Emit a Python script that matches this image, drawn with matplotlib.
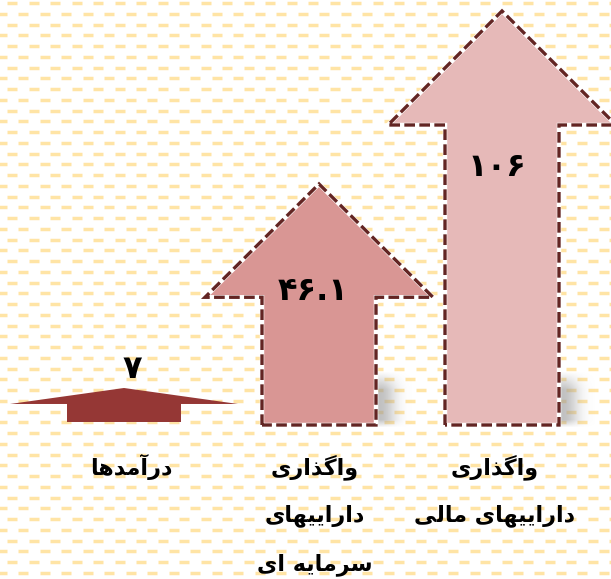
import numpy as np
import matplotlib
matplotlib.use("Agg")
from matplotlib import pyplot as plt
from matplotlib.patches import Polygon
from matplotlib.collections import LineCollection

# chart data
categories = ["درآمدها", "واگذاری\nداراییهای\nسرمایه ای", "واگذاری\nداراییهای مالی"]
values = [7, 46.1, 106]

# layout (pixel units, y grows downward)
centers = [124, 319, 502]
arrow_len = [34, 241, 414]
base_y = [422, 425, 425]
shaft_half = 57
head_half = 114
head_max = 114
fills = ["#953735", "#D99694", "#E6B9B8"]
outline = ["none", "#632523", "#632523"]

FORMS = {
    "ا": ("\ufe8d", "\ufe8e"),
    "آ": ("\ufe81", "\ufe82"),
    "د": ("\ufea9", "\ufeaa"),
    "ذ": ("\ufeab", "\ufeac"),
    "ر": ("\ufead", "\ufeae"),
    "و": ("\ufeed", "\ufeee"),
    "م": ("\ufee1", "\ufee2", "\ufee3", "\ufee4"),
    "ه": ("\ufee9", "\ufeea", "\ufeeb", "\ufeec"),
    "س": ("\ufeb1", "\ufeb2", "\ufeb3", "\ufeb4"),
    "ل": ("\ufedd", "\ufede", "\ufedf", "\ufee0"),
    "گ": ("\ufb92", "\ufb93", "\ufb94", "\ufb95"),
    "ی": ("\ufbfc", "\ufbfd", "\ufbfe", "\ufbff"),
}


def shape(line):
    # join letters into presentation forms and flip to visual order
    out = []
    for i, ch in enumerate(line):
        f = FORMS.get(ch)
        if f is None:
            out.append(ch)
            continue
        prev = line[i - 1] if i > 0 else ""
        nxt = line[i + 1] if i < len(line) - 1 else ""
        jp = prev in FORMS and len(FORMS[prev]) == 4
        jn = len(f) == 4 and nxt in FORMS
        if jp and jn:
            out.append(f[3])
        elif jp:
            out.append(f[1])
        elif jn:
            out.append(f[2])
        else:
            out.append(f[0])
    return "".join(reversed(out))


def to_fa(v):
    s = f"{v:g}"
    return s.translate(str.maketrans("0123456789", "۰۱۲۳۴۵۶۷۸۹"))


fig = plt.figure(figsize=(6.11, 5.79), dpi=100)
ax = fig.add_axes([0, 0, 1, 1])

# dashed yellow background pattern
segs = []
for r, y in enumerate(np.arange(3, 579, 10.75)):
    off = 7 if r % 2 == 0 else -3.5
    for x in np.arange(off, 620, 21.5):
        segs.append([(x, y), (x + 10, y)])
ax.add_collection(LineCollection(segs, colors="#FFE096", linewidths=2.5, alpha=0.85, zorder=0))

# soft shadows next to shaft bottoms
yy, xx = np.mgrid[0:60, 0:40]
blob = np.exp(-((xx - 8) / 15.0) ** 2) * np.clip((yy - 4) / 18.0, 0, 1) * np.clip((60 - yy) / 8.0, 0, 1)
shadow = np.zeros((60, 40, 4))
shadow[..., :3] = 0.6
shadow[..., 3] = blob * 0.6
for i in [1, 2]:
    x0 = centers[i] + shaft_half
    ax.imshow(shadow, extent=(x0 - 4, x0 + 36, base_y[i] + 2, base_y[i] - 58), zorder=1,
              interpolation="bilinear")

ax.set_xlim(0, 611)
ax.set_ylim(579, 0)
ax.axis("off")

for i, (c, L, b) in enumerate(zip(centers, arrow_len, base_y)):
    head = min(head_max, 0.47 * L)
    tip = b - L
    hb = tip + head
    pts = [(c - shaft_half, b), (c - shaft_half, hb), (c - head_half, hb), (c, tip),
           (c + head_half, hb), (c + shaft_half, hb), (c + shaft_half, b)]
    ax.add_patch(Polygon(pts, closed=True, facecolor=fills[i], edgecolor="none", zorder=2))
    if outline[i] != "none":
        ax.add_patch(Polygon(pts, closed=True, fill=False, edgecolor="white",
                             linewidth=3.2, zorder=3))
        ax.add_patch(Polygon(pts, closed=True, fill=False, edgecolor=outline[i],
                             linewidth=2.4, linestyle=(0, (3.2, 1.3)), zorder=4))

# value labels
val_pos = [(132, 369), (313, 291), (497, 168)]
for (x, y), v in zip(val_pos, values):
    ax.text(x, y, to_fa(v), ha="center", va="center", fontsize=23, fontweight="bold",
            family=["DejaVu Sans"], color="black", zorder=5)

# category labels
for c, lab in zip([131, 315, 495], categories):
    for k, line in enumerate(lab.split("\n")):
        ax.text(c, 467 + k * 49, shape(line), ha="center", va="center", fontsize=16,
                fontweight="bold", family=["DejaVu Sans"], color="black", zorder=5)

fig.savefig("out.png", dpi=100)
